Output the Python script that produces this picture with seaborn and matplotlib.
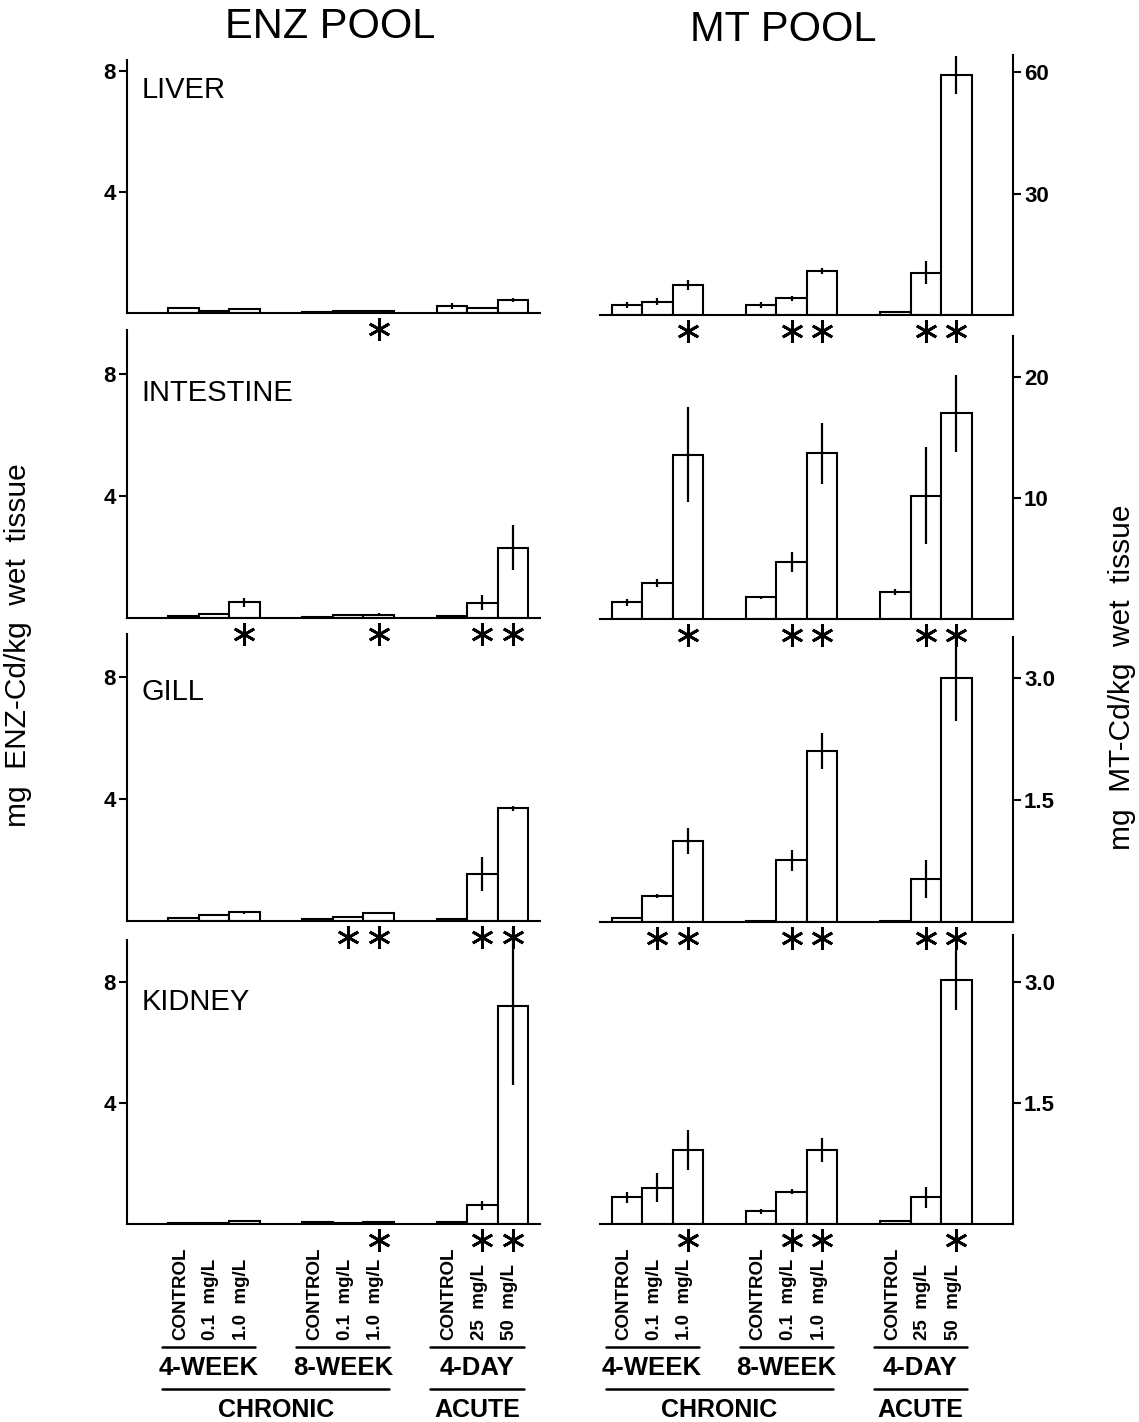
import matplotlib
matplotlib.use("Agg")
import matplotlib.pyplot as plt
import matplotlib.transforms as mtransforms
import seaborn as sns

sns.set_style("ticks")
plt.rcParams["font.family"] = ["Liberation Sans", "DejaVu Sans"]
plt.rcParams.update({"text.color": "black", "axes.edgecolor": "black",
                     "xtick.color": "black", "ytick.color": "black",
                     "axes.labelcolor": "black"})

# bar positions: three groups of three (4-WEEK, 8-WEEK, 4-DAY)
pos = [0, 1, 2, 4.4, 5.4, 6.4, 8.8, 9.8, 10.8]
group_labels = ["4-WEEK", "8-WEEK", "4-DAY"]
bar_labels = [["CONTROL", "0.1  mg/L", "1.0  mg/L"],
              ["CONTROL", "0.1  mg/L", "1.0  mg/L"],
              ["CONTROL", "25  mg/L", "50  mg/L"]]
tissues = ["LIVER", "INTESTINE", "GILL", "KIDNEY"]

# ENZ pool (mg ENZ-Cd/kg wet tissue)
liver_enz = [0.15, 0.07, 0.13, 0.04, 0.05, 0.05, 0.24, 0.16, 0.42]
liver_enz_err = [0.03, 0.02, 0.02, 0.01, 0.01, 0.01, 0.10, 0.03, 0.07]
int_enz = [0.05, 0.12, 0.52, 0.03, 0.11, 0.11, 0.05, 0.50, 2.30]
int_enz_err = [0.01, 0.02, 0.15, 0.01, 0.02, 0.05, 0.01, 0.24, 0.74]
gill_enz = [0.10, 0.20, 0.28, 0.06, 0.13, 0.27, 0.08, 1.53, 3.70]
gill_enz_err = [0.01, 0.04, 0.05, 0.01, 0.04, 0.03, 0.01, 0.56, 0.08]
kid_enz = [0.04, 0.04, 0.10, 0.05, 0.04, 0.08, 0.08, 0.62, 7.20]
kid_enz_err = [0.0, 0.0, 0.01, 0.0, 0.0, 0.01, 0.01, 0.15, 2.60]

# MT pool (mg MT-Cd/kg wet tissue)
liver_mt = [2.5, 3.3, 7.4, 2.5, 4.1, 10.9, 0.7, 10.5, 59.3]
liver_mt_err = [0.8, 0.8, 1.2, 0.7, 0.7, 0.8, 0.2, 2.9, 4.7]
int_mt = [1.37, 2.97, 13.6, 1.79, 4.7, 13.7, 2.2, 10.2, 17.0]
int_mt_err = [0.27, 0.30, 3.95, 0.15, 0.85, 2.5, 0.25, 4.0, 3.2]
gill_mt = [0.05, 0.32, 0.99, 0.01, 0.76, 2.10, 0.01, 0.53, 3.00]
gill_mt_err = [0.01, 0.02, 0.16, 0.0, 0.13, 0.22, 0.0, 0.23, 0.53]
kid_mt = [0.33, 0.45, 0.92, 0.16, 0.40, 0.92, 0.04, 0.33, 3.02]
kid_mt_err = [0.07, 0.18, 0.25, 0.03, 0.03, 0.15, 0.0, 0.13, 0.37]

# significance (asterisk under bar)
liver_enz_sig = [0, 0, 0, 0, 0, 1, 0, 0, 0]
int_enz_sig = [0, 0, 1, 0, 0, 1, 0, 1, 1]
gill_enz_sig = [0, 0, 0, 0, 1, 1, 0, 1, 1]
kid_enz_sig = [0, 0, 0, 0, 0, 1, 0, 1, 1]
liver_mt_sig = [0, 0, 1, 0, 1, 1, 0, 1, 1]
int_mt_sig = [0, 0, 1, 0, 1, 1, 0, 1, 1]
gill_mt_sig = [0, 1, 1, 0, 1, 1, 0, 1, 1]
kid_mt_sig = [0, 0, 1, 0, 1, 1, 0, 0, 1]

enz = [(liver_enz, liver_enz_err, liver_enz_sig), (int_enz, int_enz_err, int_enz_sig),
       (gill_enz, gill_enz_err, gill_enz_sig), (kid_enz, kid_enz_err, kid_enz_sig)]
mt = [(liver_mt, liver_mt_err, liver_mt_sig), (int_mt, int_mt_err, int_mt_sig),
      (gill_mt, gill_mt_err, gill_mt_sig), (kid_mt, kid_mt_err, kid_mt_sig)]

left_ticks = [4, 8]
right_ticks = [[30, 60], [10, 20], [1.5, 3.0], [1.5, 3.0]]
right_ticklabels = [["30", "60"], ["10", "20"], ["1.5", "3.0"], ["1.5", "3.0"]]

# layout in pixels
W, H = 1139, 1422
left_boxes = [(60, 313), (330, 618), (634, 921), (940, 1224)]
right_boxes = [(55, 315), (336, 619), (637, 922), (935, 1224)]
label_y = [90, 393, 692, 1002]
left_ytop = [8.35, 9.43, 9.41, 9.39]
right_ytop = [64.3, 23.4, 3.5, 3.58]
left_xlim = (-1.85, 11.69)
right_xlim = (-0.885, 12.66)

fig = plt.figure(figsize=(W / 100, H / 100), dpi=100)


def px_axes(x0, x1, ytop, ybot):
    ax = fig.add_axes([x0 / W, 1 - ybot / H, (x1 - x0) / W, (ybot - ytop) / H])
    ax.set_facecolor("none")
    return ax


def draw_panel(ax, vals, errs, sig, ytop, xlim):
    sns.barplot(x=pos, y=vals, native_scale=True, orient="x", width=1.0,
                color="white", saturation=1, edgecolor="black", linewidth=1.5,
                errorbar=None, ax=ax)
    eb = ax.errorbar(pos, vals, yerr=errs, fmt="none", ecolor="black",
                     elinewidth=1.6, capsize=0)
    for ln in eb.lines[2]:
        ln.set_clip_on(False)
    star_tr = mtransforms.offset_copy(ax.transData, fig=fig, y=-16, units="dots")
    xs = [p for p, s in zip(pos, sig) if s]
    ax.plot(xs, [0] * len(xs), linestyle="none", marker=(6, 2, 0), ms=16,
            mew=2.0, color="black", transform=star_tr, clip_on=False)
    ax.set_xlim(*xlim)
    ax.set_ylim(0, ytop)
    ax.set_xticks([])
    ax.set_xlabel("")
    ax.set_ylabel("")
    for s in ax.spines.values():
        s.set_linewidth(1.5)
    ax.tick_params(axis="y", length=6, width=1.5, labelsize=16, pad=2)
    for t in ax.get_yticklabels():
        t.set_fontweight("bold")


for i in range(4):
    # ENZ pool (left)
    ax = px_axes(127, 540, *left_boxes[i])
    v, e, s = enz[i]
    ax.set_yticks(left_ticks)
    ax.set_yticklabels([str(t) for t in left_ticks])
    draw_panel(ax, v, e, s, left_ytop[i], left_xlim)
    ax.spines["top"].set_visible(False)
    ax.spines["right"].set_visible(False)
    frac = 1 - (label_y[i] - left_boxes[i][0]) / (left_boxes[i][1] - left_boxes[i][0])
    ax.text(0.035, frac, tissues[i], transform=ax.transAxes, fontsize=21,
            va="center", ha="left")
    if i == 3:
        axl_bottom = ax

    # MT pool (right)
    ax2 = px_axes(600, 1013, *right_boxes[i])
    v, e, s = mt[i]
    ax2.yaxis.tick_right()
    ax2.set_yticks(right_ticks[i])
    ax2.set_yticklabels(right_ticklabels[i])
    draw_panel(ax2, v, e, s, right_ytop[i], right_xlim)
    ax2.spines["top"].set_visible(False)
    ax2.spines["left"].set_visible(False)
    if i == 3:
        axr_bottom = ax2


def draw_categories(ax):
    tr = mtransforms.blended_transform_factory(ax.transData, fig.transFigure)
    fy = lambda y: 1 - y / H
    for g in range(3):
        p = pos[3 * g:3 * g + 3]
        for k in range(3):
            ax.text(p[k] - 0.1, fy(1340), bar_labels[g][k], transform=tr, rotation=90,
                    ha="center", va="bottom", fontsize=13.5, fontweight="bold")
        x0, x1 = p[0] - 0.7, p[2] + 0.35
        ax.plot([x0, x1], [fy(1347), fy(1347)], color="black", lw=1.8,
                transform=tr, clip_on=False)
        ax.text((x0 + x1) / 2, fy(1368), group_labels[g], transform=tr,
                ha="center", va="center", fontsize=18.5, fontweight="bold")
    chron = (pos[0] - 0.7, pos[5] + 0.35)
    acute = (pos[6] - 0.7, pos[8] + 0.35)
    for (x0, x1), name in [(chron, "CHRONIC"), (acute, "ACUTE")]:
        ax.plot([x0, x1], [fy(1389), fy(1389)], color="black", lw=1.8,
                transform=tr, clip_on=False)
        ax.text((x0 + x1) / 2, fy(1410), name, transform=tr,
                ha="center", va="center", fontsize=18, fontweight="bold")


draw_categories(axl_bottom)
draw_categories(axr_bottom)

fig.text(330 / W, 1 - 27 / H, "ENZ POOL", ha="center", va="center", fontsize=30)
fig.text(783 / W, 1 - 30 / H, "MT POOL", ha="center", va="center", fontsize=30)
fig.text(18 / W, 1 - 645 / H, "mg  ENZ-Cd/kg  wet  tissue", rotation=90,
         ha="center", va="center", fontsize=21.5)
fig.text(1122 / W, 1 - 677 / H, "mg  MT-Cd/kg  wet  tissue", rotation=90,
         ha="center", va="center", fontsize=21.5)

fig.savefig("out.png", dpi=100, facecolor="white")
